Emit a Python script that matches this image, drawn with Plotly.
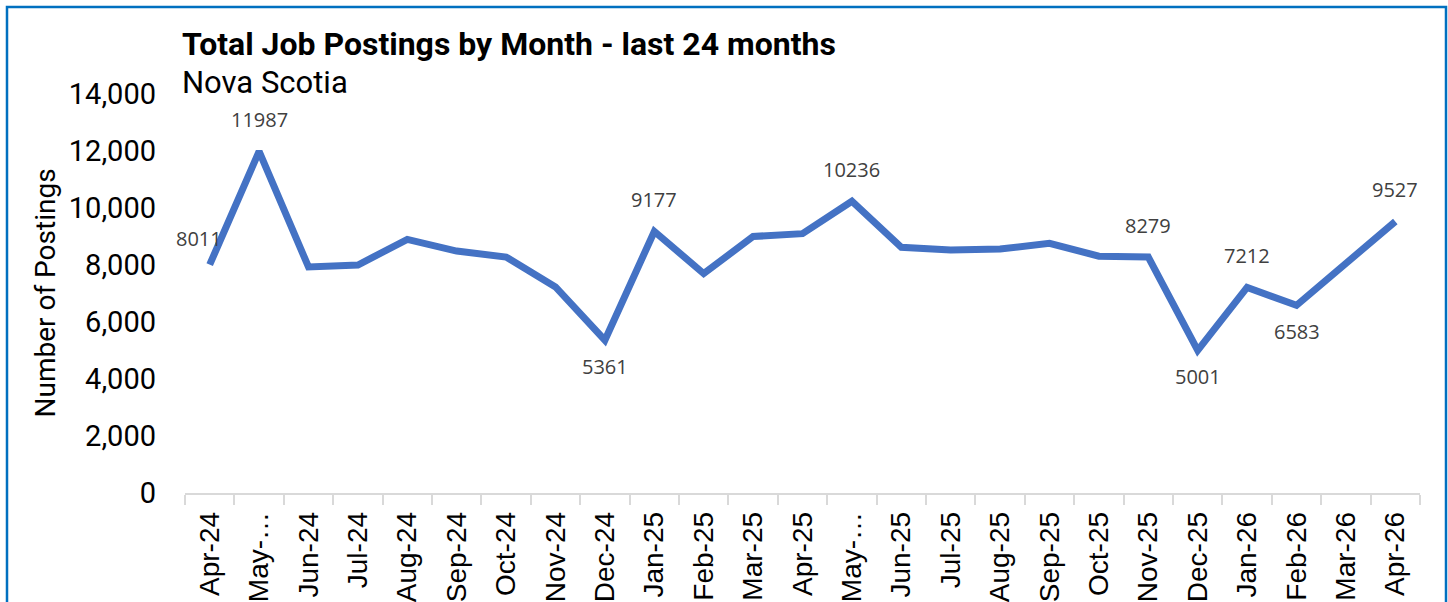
import plotly.graph_objects as go

# ---- data ----
months = ["Apr-24", "May-24", "Jun-24", "Jul-24", "Aug-24", "Sep-24", "Oct-24", "Nov-24",
          "Dec-24", "Jan-25", "Feb-25", "Mar-25", "Apr-25", "May-25", "Jun-25", "Jul-25",
          "Aug-25", "Sep-25", "Oct-25", "Nov-25", "Dec-25", "Jan-26", "Feb-26", "Mar-26", "Apr-26"]
tick_labels = ["Apr-24", "May-…", "Jun-24", "Jul-24", "Aug-24", "Sep-24", "Oct-24", "Nov-24",
               "Dec-24", "Jan-25", "Feb-25", "Mar-25", "Apr-25", "May-…", "Jun-25", "Jul-25",
               "Aug-25", "Sep-25", "Oct-25", "Nov-25", "Dec-25", "Jan-26", "Feb-26", "Mar-26", "Apr-26"]
postings = [8011, 11987, 7930, 8000, 8900, 8490, 8280, 7230,
            5361, 9177, 7700, 9000, 9100, 10236, 8620, 8530,
            8560, 8760, 8310, 8279, 5001, 7212, 6583, 8060, 9527]
# labelled points: (month, position)
label_points = ["Apr-24", "May-24", "Dec-24", "Jan-25", "May-25", "Nov-25", "Dec-25", "Jan-26", "Feb-26", "Apr-26"]
label_pos = ["left", "above", "below", "above", "above", "above", "below", "above", "below", "above"]
y_ticks = [0, 2000, 4000, 6000, 8000, 10000, 12000, 14000]

W, H = 1448, 602
L, R, T, B = 185, 28, 94, 109
pw, ph = W - L - R, H - T - B


def px_x(x):
    return (x - L) / pw


def px_y(y):
    return (H - B - y) / ph


fig = go.Figure()
fig.add_trace(go.Scatter(
    x=months, y=postings, mode="lines",
    line=dict(color="#4472C4", width=7),
    hoverinfo="x+y", showlegend=False,
))

annotations = []
for m, pos in zip(label_points, label_pos):
    v = postings[months.index(m)]
    if pos == "above":
        xs, ys = 0, 32
    elif pos == "below":
        xs, ys = 0, -26
    else:
        xs, ys = -11, 26
    annotations.append(dict(
        x=m, y=v, xref="x", yref="y", text=str(v), showarrow=False,
        xshift=xs, yshift=ys, xanchor="center", yanchor="middle",
        font=dict(family="Open Sans, sans-serif", size=20, color="#404040"),
    ))

annotations.append(dict(
    x=px_x(180), y=px_y(44), xref="paper", yref="paper",
    text="<b>Total Job Postings by Month - last 24 months</b>", showarrow=False,
    xanchor="left", yanchor="middle",
    font=dict(family="Roboto, sans-serif", size=32, color="#000000"),
))
annotations.append(dict(
    x=px_x(180), y=px_y(82), xref="paper", yref="paper",
    text="Nova Scotia", showarrow=False,
    xanchor="left", yanchor="middle",
    font=dict(family="Roboto, sans-serif", size=31, color="#000000"),
))
annotations.append(dict(
    x=px_x(45), y=0.5, xref="paper", yref="paper",
    text="Number of Postings", showarrow=False, textangle=-90,
    xanchor="center", yanchor="middle",
    font=dict(family="Roboto, sans-serif", size=28, color="#000000"),
))

fig.update_layout(
    width=W, height=H, autosize=False,
    margin=dict(l=L, r=R, t=T, b=B, pad=0),
    paper_bgcolor="white", plot_bgcolor="white",
    annotations=annotations,
    shapes=[dict(
        type="rect", xref="paper", yref="paper",
        x0=px_x(7), x1=px_x(1446), y0=px_y(640), y1=px_y(7),
        line=dict(color="#0070C0", width=2.5), fillcolor="rgba(0,0,0,0)", layer="above",
    )],
    xaxis=dict(
        type="category", categoryorder="array", categoryarray=months,
        tickmode="array", tickvals=months, ticktext=tick_labels,
        range=[-0.5, len(months) - 0.5], automargin=False,
        tickangle=-90, tickson="boundaries", ticks="outside", ticklen=10,
        tickcolor="#D9D9D9", tickwidth=1.5,
        showline=True, linecolor="#D9D9D9", linewidth=1.5,
        showgrid=False, zeroline=False,
        tickfont=dict(family="Liberation Sans, Arial, sans-serif", size=28, color="#000000"),
        ticklabelstandoff=6,
    ),
    yaxis=dict(
        range=[0, 14000], tickmode="array", tickvals=y_ticks, automargin=False,
        tickformat=",d", showgrid=False, zeroline=False, showline=False,
        ticks="", ticklabelstandoff=28,
        tickfont=dict(family="Roboto, sans-serif", size=29, color="#000000"),
    ),
)

fig.write_html(
    "out.html",
    config={"displayModeBar": False},
    post_script="document.body.style.margin='0';document.body.style.overflow='hidden';",
)
